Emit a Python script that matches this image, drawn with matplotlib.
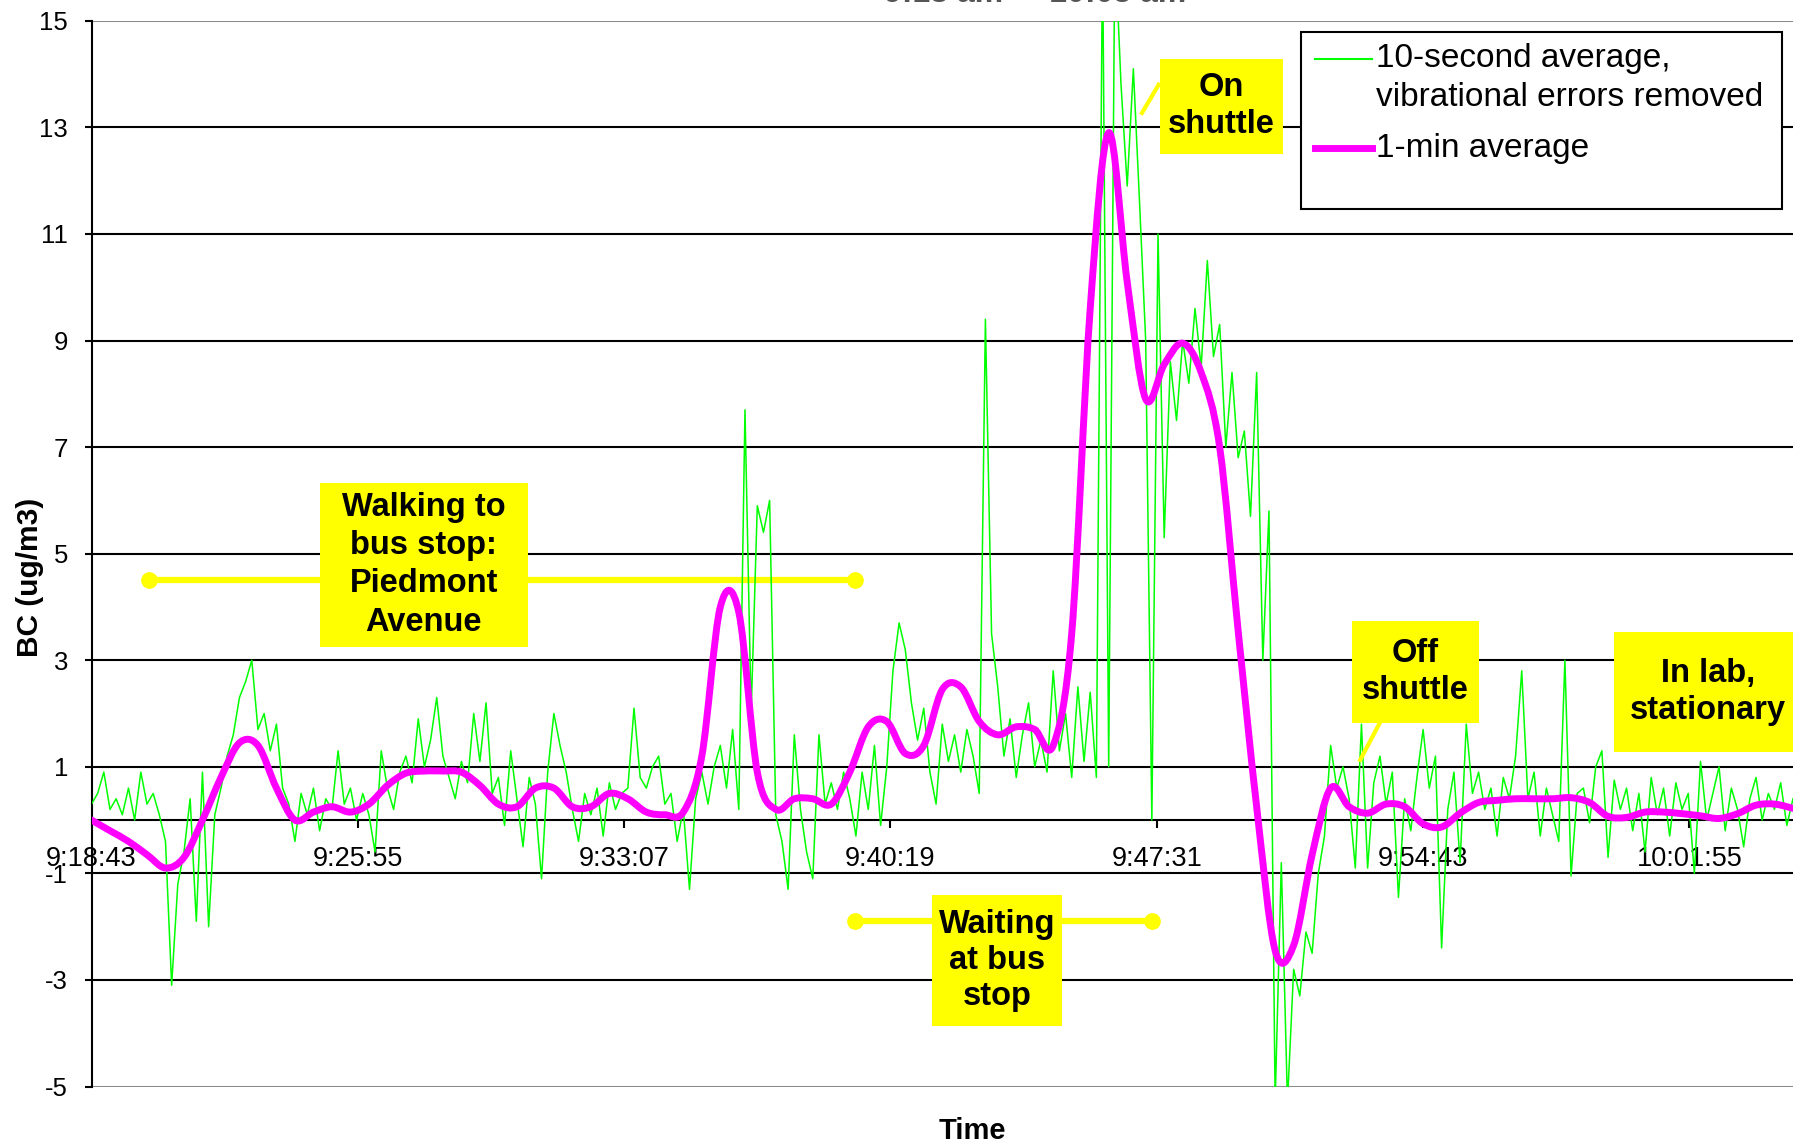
import numpy as np
import matplotlib
matplotlib.use('Agg')
import matplotlib.pyplot as plt
from matplotlib.path import Path
from matplotlib.patches import PathPatch, Rectangle
from matplotlib.lines import Line2D

plt.rcParams['font.family'] = ['Liberation Sans', 'DejaVu Sans']

# BC, 10-second averages (ug/m3), one value every 10 s starting 9:18:43
bc_10s = [
    0.3, 0.5, 0.9, 0.2, 0.4, 0.1, 0.6, 0.0, 0.9, 0.3, 0.5, 0.1, -0.4,
    -3.1, -1.2, -0.6, 0.4, -1.9, 0.9, -2.0, 0.1, 0.6,
    1.2, 1.6, 2.3, 2.6, 3.0, 1.7, 2.0, 1.3, 1.8, 0.6, 0.3,
    -0.4, 0.5, 0.1, 0.6, -0.2, 0.4, 0.2, 1.3, 0.3, 0.6, 0.0, 0.5, 0.1, -0.6, 1.3,
    0.6, 0.2, 0.9, 1.2, 0.7, 1.9, 1.0, 1.5, 2.3, 1.2, 0.8, 0.4, 1.1, 0.7,
    2.0, 1.1, 2.2, 0.5, 0.8, -0.1, 1.3, 0.4, -0.5, 0.8,
    0.3, -1.1, 0.9, 2.0, 1.4, 0.9, 0.2, -0.4, 0.5, 0.1,
    0.6, -0.3, 0.7, 0.2, 0.5, 0.6, 2.1, 0.8, 0.6, 1.0,
    1.2, 0.3, 0.5, -0.4, 0.2, -1.3, 0.4, 0.9, 0.3, 1.0,
    1.4, 0.6, 1.7, 0.2, 7.7, 2.0, 5.9, 5.4, 6.0, 0.1,
    -0.4, -1.3, 1.6, 0.2, -0.6, -1.1, 1.6, 0.3, 0.7, 0.2,
    0.9, 0.4, -0.3,
    0.9, 0.2, 1.4, -0.1, 1.0, 2.8, 3.7, 3.2, 2.2, 1.5,
    2.1, 0.9, 0.3, 1.8, 1.1, 1.6, 0.9, 1.7, 1.2, 0.5,
    9.4, 3.5, 2.5, 1.2, 1.9, 0.8, 1.6, 2.2, 1.0, 1.5,
    0.9, 2.8, 1.3, 2.0, 0.8, 2.5, 1.1, 2.4, 0.8, 16.5,
    1.0, 16.5, 13.8, 11.9, 14.1, 11.6, 9.0, 0.0, 11.0, 5.3,
    8.6, 7.5, 9.0, 8.2, 9.6, 8.5, 10.5, 8.7, 9.3, 7.0,
    8.4, 6.8,
    7.3, 5.7, 8.4, 3.0, 5.8, -5.3, -0.8, -5.3, -2.8, -3.3,
    -2.1, -2.5, -1.0, -0.3, 1.4, 0.6, 1.0, 0.4, -0.9, 1.8,
    -0.9, 0.7, 1.2, 0.3, 0.9, -1.45, 0.4, -0.2, 0.8, 1.7,
    0.6, 1.2, -2.4, 0.2, 0.9, -0.8, 1.8, 0.5, 0.9, 0.2,
    0.6, -0.3, 0.8, 0.4, 1.2, 2.8, 0.4, 0.9, -0.3, 0.6,
    0.1, -0.4, 3.0, -1.05, 0.5,
    0.6, -0.05, 1.0, 1.3, -0.7, 0.75, 0.2, 0.6, -0.2, 0.5,
    -0.6, 0.8, 0.1, 0.6, -0.3, 0.7, 0.2, 0.5, -1.0, 1.1,
    0.0, 0.5, 1.0, -0.2, 0.6, 0.2, -0.5, 0.4, 0.8, 0.0,
    0.5, 0.2, 0.7, -0.1, 0.4,
]

# running 1-min average, read every 30 s
bc_1min = [
    0.0, -0.2, -0.4, -0.65, -0.9, -0.7, 0.0, 0.8, 1.45, 1.4,
    0.6, 0.0, 0.15, 0.25, 0.15, 0.3, 0.65, 0.88, 0.92, 0.92,
    0.9, 0.65, 0.3, 0.25, 0.6, 0.6, 0.25, 0.25, 0.5, 0.4,
    0.15, 0.1, 0.15, 1.2, 4.0, 3.9, 0.9, 0.2, 0.4, 0.4,
    0.3, 0.9, 1.75, 1.85, 1.25, 1.4, 2.45, 2.5, 1.85, 1.6,
    1.75, 1.7, 1.4, 3.5, 9.6, 12.9, 10.1, 7.9, 8.55, 8.95,
    8.4, 7.0, 3.55, 0.25, -2.45, -2.35, -0.65, 0.6, 0.25, 0.13,
    0.3, 0.25, -0.07, -0.13, 0.13, 0.33, 0.37, 0.4, 0.4, 0.4,
    0.42, 0.33, 0.07, 0.05, 0.15, 0.15, 0.12, 0.08, 0.03, 0.12,
    0.28, 0.3, 0.22,
]

tick_seconds = [0, 432, 864, 1296, 1728, 2160, 2592]
tick_labels = ['9:18:43', '9:25:55', '9:33:07', '9:40:19', '9:47:31', '9:54:43', '10:01:55']

# activity periods: start s, end s, level
periods = [
    (93, 1238, 4.5),
    (1238, 1720, -1.9),
]
# label boxes: text, t0, t1, bottom, top, line spacing
boxes = [
    ('Walking to\nbus stop:\nPiedmont\nAvenue', 370, 708, 3.25, 6.33, 1.3),
    ('Waiting\nat bus\nstop', 1363, 1575, -3.87, -1.40, 1.22),
    ('On\nshuttle', 1734, 1932, 12.50, 14.29, 1.25),
    ('Off\nshuttle', 2045, 2250, 1.83, 3.74, 1.25),
    ('In lab,\nstationary', 2470, 2775, 1.28, 3.53, 1.25),
]
leaders = [
    ((1731, 1704), (13.8, 13.27)),
    ((2090, 2058), (1.83, 1.13)),
]

YELLOW = '#FFFF00'
GREEN = '#00FF00'
MAGENTA = '#FF00FF'

W, H = 1793, 1146
fig = plt.figure(figsize=(W / 100, H / 100), dpi=100)
fig.patch.set_facecolor('white')
ax = fig.add_axes([91.5 / W, 1 - 1086.5 / H, 1 - 91.5 / W, (1086.5 - 20.8) / H])

t10 = np.arange(len(bc_10s)) * 10
t60 = np.arange(len(bc_1min)) * 30

ax.set_xlim(0, 2760)
ax.set_ylim(-5, 15)

yt = list(range(-5, 16, 2))
for v in yt:
    c = '#8c8c8c' if v in (-5, 15) else 'black'
    ax.axhline(v, color=c, lw=1.5, zorder=1)

for s0, s1, lvl in periods:
    ax.plot([s0, s1], [lvl, lvl], color=YELLOW, lw=4.5, marker='o', ms=11,
            solid_capstyle='butt', zorder=2)

ax.plot(t10, bc_10s, color=GREEN, lw=1.1, zorder=3)


def smooth_path(x, y):
    # Catmull-Rom style curve through the points, as cubic Bezier segments
    p = np.column_stack([x, y]).astype(float)
    e = np.vstack([p[0], p, p[-1]])
    verts = [p[0]]
    codes = [Path.MOVETO]
    for k in range(len(p) - 1):
        p0, p1, p2, p3 = e[k], e[k + 1], e[k + 2], e[k + 3]
        verts += [p1 + (p2 - p0) / 6, p2 - (p3 - p1) / 6, p2]
        codes += [Path.CURVE4] * 3
    return Path(verts, codes)


ax.add_patch(PathPatch(smooth_path(t60, bc_1min), fill=False, edgecolor=MAGENTA,
                       lw=5, capstyle='round', joinstyle='round', zorder=4))

for (xs, ys) in leaders:
    ax.plot(xs, ys, color=YELLOW, lw=3, zorder=5, clip_on=False)

for text, a, b, lo, hi, ls in boxes:
    ax.add_patch(Rectangle((a, lo), b - a, hi - lo, facecolor=YELLOW,
                           edgecolor='none', zorder=6, clip_on=False))
    ax.text((a + b) / 2, (lo + hi) / 2, text, ha='center', va='center',
            fontsize=23.5, fontweight='bold', linespacing=ls, zorder=7)

for side in ('top', 'right'):
    ax.spines[side].set_visible(False)
ax.spines['left'].set_linewidth(1.5)
ax.spines['bottom'].set_position(('data', 0))
ax.spines['bottom'].set_linewidth(1.5)
ax.spines['bottom'].set_zorder(1.5)

ax.set_yticks(yt)
ax.set_yticklabels([str(v) for v in yt], fontsize=18.5)
ax.tick_params(axis='y', direction='out', length=5, width=1.5, pad=12)
ax.set_xticks(tick_seconds, tick_labels, fontsize=19.5)
ax.tick_params(axis='x', direction='out', length=6, width=1.5, pad=13)

fig.text(30 / W, 1 - 577.5 / H, 'BC (ug/m3)', rotation=90, ha='center', va='center',
         fontsize=21.5, fontweight='bold')
fig.text(972 / W, 1 - 1131 / H, 'Time', ha='center', va='center',
         fontsize=21, fontweight='bold')
fig.text(1035 / W, 1 - 2.5 / H, '9:18 am  -  10:05 am', ha='center', va='baseline',
         fontsize=23, fontweight='bold', color='#555555')

# legend drawn in figure pixels
def fx(px):
    return px / W


def fy(py):
    return 1 - py / H


fig.add_artist(Rectangle((fx(1301), fy(209)), fx(1782) - fx(1301), fy(32) - fy(209),
                         transform=fig.transFigure, facecolor='white',
                         edgecolor='black', lw=1.5, zorder=10))
fig.add_artist(Line2D([fx(1315), fx(1372)], [fy(59), fy(59)], color=GREEN, lw=1.5,
                      transform=fig.transFigure, zorder=11))
fig.add_artist(Line2D([fx(1315), fx(1372)], [fy(148), fy(148)], color=MAGENTA, lw=5,
                      transform=fig.transFigure, zorder=11))
for label, py in [('10-second average,', 59), ('vibrational errors removed', 97),
                  ('1-min average', 148)]:
    fig.text(fx(1376), fy(py), label, ha='left', va='center', fontsize=24, zorder=12)

fig.savefig('out.png', dpi=100)
